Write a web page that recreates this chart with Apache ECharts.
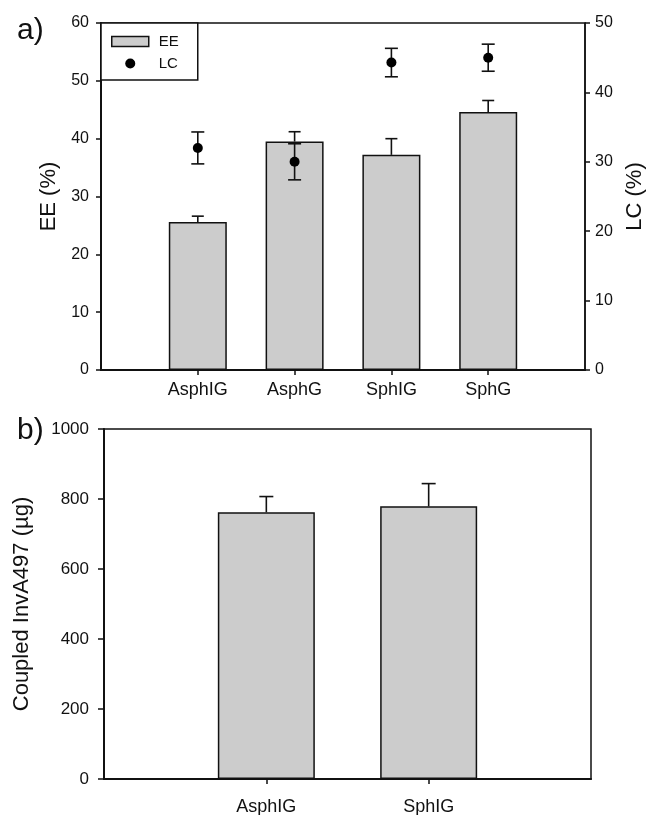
<!DOCTYPE html>
<html>
<head>
<meta charset="utf-8">
<script src="https://cdn.jsdelivr.net/npm/echarts@6/dist/echarts.min.js"></script>
<style>
html,body{margin:0;padding:0;background:#fff;}
#c{width:646px;height:815px;}
</style>
</head>
<body>
<div id="c"></div>
<script>
// ---- data (panel a) ----
const catsA = ['AsphIG', 'AsphG', 'SphIG', 'SphG'];
const eeMean = [25.6, 39.5, 37.2, 44.6];
const eeSd = [1.0, 1.7, 2.8, 2.0];
const lcMean = [32.0, 30.0, 44.3, 45.0];
const lcSd = [2.3, 2.6, 2.05, 1.95];
const eeTicks = [0, 10, 20, 30, 40, 50, 60];
const lcTicks = [0, 10, 20, 30, 40, 50];
// ---- data (panel b) ----
const catsB = ['AsphIG', 'SphIG'];
const invMean = [762, 779];
const invSd = [45, 65];
const invTicks = [0, 200, 400, 600, 800, 1000];

const FONT = '"Liberation Sans", Arial, Helvetica, sans-serif';
const padA = [''].concat(catsA, ['']);
const padB = [''].concat(catsB, ['']);
const pad = arr => ['-'].concat(arr, ['-']);
const errData = (m, s) => m.map((v, i) => [i + 1, v, s[i]]);

function errRender(both, capW) {
  return function (params, api) {
    const x = api.value(0), y = api.value(1), e = api.value(2);
    const top = api.coord([x, y + e]);
    const bot = api.coord([x, both ? y - e : y]);
    const h = capW / 2;
    const st = { stroke: '#111', lineWidth: 1.6 };
    const ch = [
      { type: 'line', shape: { x1: top[0], y1: top[1], x2: bot[0], y2: bot[1] }, style: st },
      { type: 'line', shape: { x1: top[0] - h, y1: top[1], x2: top[0] + h, y2: top[1] }, style: st }
    ];
    if (both) ch.push({ type: 'line', shape: { x1: bot[0] - h, y1: bot[1], x2: bot[0] + h, y2: bot[1] }, style: st });
    return { type: 'group', children: ch };
  };
}

const axisLine = { show: true, lineStyle: { color: '#111', width: 2 } };
const tickOut = { show: true, inside: false, length: 5, lineStyle: { color: '#111', width: 1.5 } };
const plain = v => String(v);

const chart = echarts.init(document.getElementById('c'), null, { renderer: 'canvas' });
chart.setOption({
  animation: false,
  backgroundColor: '#fff',
  textStyle: { fontFamily: FONT },
  title: [
    { text: 'a)', left: 12, top: 11, textStyle: { fontSize: 30, fontWeight: 'normal', color: '#111', fontFamily: FONT } },
    { text: 'b)', left: 12, top: 411, textStyle: { fontSize: 30, fontWeight: 'normal', color: '#111', fontFamily: FONT } }
  ],
  legend: {
    left: 101, top: 23,
    orient: 'vertical',
    padding: [11, 19, 9, 10],
    itemGap: 7,
    itemWidth: 37, itemHeight: 10,
    borderColor: '#111', borderWidth: 1.5,
    backgroundColor: '#fff',
    selectedMode: false,
    textStyle: { fontSize: 15, color: '#111', fontFamily: FONT, padding: [0, 0, 0, 5] },
    data: [
      { name: 'EE', icon: 'rect', itemStyle: { color: '#cccccc', borderColor: '#111', borderWidth: 1.5 } },
      { name: 'LC', icon: 'circle', itemStyle: { color: '#000', borderWidth: 0, opacity: 1 } }
    ]
  },
  grid: [
    { left: 101, top: 23, width: 484, height: 347, outerBoundsMode: 'none', containLabel: false, show: true, borderColor: '#111', borderWidth: 1.5, backgroundColor: 'transparent' },
    { left: 104, top: 429, width: 487, height: 350, outerBoundsMode: 'none', containLabel: false, show: true, borderColor: '#111', borderWidth: 1.5, backgroundColor: 'transparent' }
  ],
  xAxis: [
    {
      type: 'category', gridIndex: 0, data: padA, boundaryGap: false,
      axisLine: axisLine,
      axisTick: Object.assign({}, tickOut, { interval: (i, v) => v !== '' }),
      axisLabel: { interval: 0, margin: 11, fontSize: 18, color: '#111', fontFamily: FONT },
      splitLine: { show: false }
    },
    {
      type: 'category', gridIndex: 1, data: padB, boundaryGap: false,
      axisLine: axisLine,
      axisTick: Object.assign({}, tickOut, { interval: (i, v) => v !== '' }),
      axisLabel: { interval: 0, margin: 19, fontSize: 18, color: '#111', fontFamily: FONT },
      splitLine: { show: false }
    }
  ],
  yAxis: [
    {
      type: 'value', gridIndex: 0, min: eeTicks[0], max: eeTicks[eeTicks.length - 1], interval: 10, position: 'left',
      name: 'EE (%)', nameLocation: 'middle', nameGap: 41, nameRotate: 90,
      nameTextStyle: { fontSize: 22, color: '#111', fontFamily: FONT },
      axisLine: axisLine, axisTick: tickOut,
      axisLabel: { margin: 12, fontSize: 16, color: '#111', fontFamily: FONT, formatter: plain },
      splitLine: { show: false }
    },
    {
      type: 'value', gridIndex: 0, min: lcTicks[0], max: lcTicks[lcTicks.length - 1], interval: 10, position: 'right',
      name: 'LC (%)', nameLocation: 'middle', nameGap: 38, nameRotate: 90,
      nameTextStyle: { fontSize: 22, color: '#111', fontFamily: FONT },
      axisLine: Object.assign({}, axisLine, { lineStyle: { color: '#111', width: 1.5 } }), axisTick: tickOut,
      axisLabel: { margin: 10, fontSize: 16, color: '#111', fontFamily: FONT, formatter: plain },
      splitLine: { show: false }
    },
    {
      type: 'value', gridIndex: 1, min: invTicks[0], max: invTicks[invTicks.length - 1], interval: 200, position: 'left',
      name: 'Coupled InvA497 (µg)', nameLocation: 'middle', nameGap: 71, nameRotate: 90,
      nameTextStyle: { fontSize: 22, color: '#111', fontFamily: FONT },
      axisLine: axisLine, axisTick: Object.assign({}, tickOut, { length: 6 }),
      axisLabel: { margin: 15, fontSize: 17, color: '#111', fontFamily: FONT, formatter: plain },
      splitLine: { show: false }
    }
  ],
  series: [
    {
      name: 'EE', type: 'bar', xAxisIndex: 0, yAxisIndex: 0, barWidth: 58,
      data: pad(eeMean),
      itemStyle: { color: '#cccccc', borderColor: '#111', borderWidth: 1.5 },
      z: 2
    },
    {
      name: 'EE err', type: 'custom', xAxisIndex: 0, yAxisIndex: 0,
      renderItem: errRender(false, 12), data: errData(eeMean, eeSd), z: 3, silent: true
    },
    {
      name: 'LC err', type: 'custom', xAxisIndex: 0, yAxisIndex: 1,
      renderItem: errRender(true, 13), data: errData(lcMean, lcSd), z: 4, silent: true
    },
    {
      name: 'LC', type: 'scatter', xAxisIndex: 0, yAxisIndex: 1, symbol: 'circle', symbolSize: 10,
      data: lcMean.map((v, i) => [i + 1, v]),
      itemStyle: { color: '#000', opacity: 1 }, z: 5
    },
    {
      name: 'InvA', type: 'bar', xAxisIndex: 1, yAxisIndex: 2, barWidth: 97,
      data: pad(invMean),
      itemStyle: { color: '#cccccc', borderColor: '#111', borderWidth: 1.5 },
      z: 2
    },
    {
      name: 'InvA err', type: 'custom', xAxisIndex: 1, yAxisIndex: 2,
      renderItem: errRender(false, 14), data: errData(invMean, invSd), z: 3, silent: true
    }
  ]
});
</script>
</body>
</html>
